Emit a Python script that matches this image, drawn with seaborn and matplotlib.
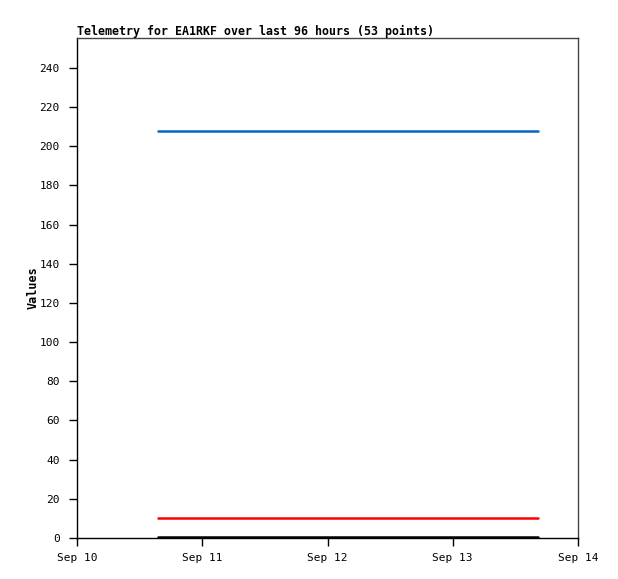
import matplotlib
matplotlib.use("Agg")
import matplotlib.pyplot as plt
import seaborn as sns
import pandas as pd

times = ["2023-09-10 15:30", "2023-09-11 04:00", "2023-09-11 16:00", "2023-09-12 04:00",
         "2023-09-12 16:00", "2023-09-13 04:00", "2023-09-13 16:20"]
blue_vals = [208, 208, 208, 208, 208, 208, 208]
red_vals = [10, 10, 10, 10, 10, 10, 10]
black_vals = [0.5, 0.5, 0.5, 0.5, 0.5, 0.5, 0.5]
tick_dates = ["2023-09-10", "2023-09-11", "2023-09-12", "2023-09-13", "2023-09-14"]
tick_labels = ["Sep 10", "Sep 11", "Sep 12", "Sep 13", "Sep 14"]

df = pd.DataFrame({"time": pd.to_datetime(times), "blue": blue_vals,
                   "red": red_vals, "black": black_vals})

sns.set_style("white")
plt.rcParams["font.family"] = ["DejaVu Sans Mono"]
plt.rcParams["text.color"] = "black"
plt.rcParams["axes.labelcolor"] = "black"
plt.rcParams["xtick.color"] = "black"
plt.rcParams["ytick.color"] = "black"

fig = plt.figure(figsize=(6.18, 5.79), dpi=100)
ax = fig.add_axes([77 / 618, 41 / 579, 501 / 618, 500 / 579])

sns.lineplot(data=df, x="time", y="blue", color="#0066cc", linewidth=1.8, ax=ax)
sns.lineplot(data=df, x="time", y="red", color="#ff0000", linewidth=1.8, ax=ax)
sns.lineplot(data=df, x="time", y="black", color="#000000", linewidth=1.8, ax=ax)

ax.set_ylim(0, 255.3)
ax.set_yticks(range(0, 241, 20))
ax.set_xlim(pd.Timestamp(tick_dates[0]), pd.Timestamp(tick_dates[-1]))
ax.set_xticks(pd.to_datetime(tick_dates))
ax.set_xticklabels(tick_labels)

ax.tick_params(axis="both", direction="out", length=6, width=1, color="black",
               labelsize=8, left=True, bottom=True)
ax.tick_params(axis="y", pad=6.5)
ax.tick_params(axis="x", pad=4.5)
for side in ["left", "bottom"]:
    ax.spines[side].set_color("black")
    ax.spines[side].set_linewidth(1)
for side in ["top", "right"]:
    ax.spines[side].set_color("#444444")
    ax.spines[side].set_linewidth(1)

ax.set_xlabel("")
ax.set_ylabel("Values", fontsize=8.5, fontweight="bold", labelpad=0)
ax.set_title("Telemetry for EA1RKF over last 96 hours (53 points)", loc="left",
             fontsize=8.4, fontweight="bold", pad=2)

fig.savefig("out.png", dpi=100)
